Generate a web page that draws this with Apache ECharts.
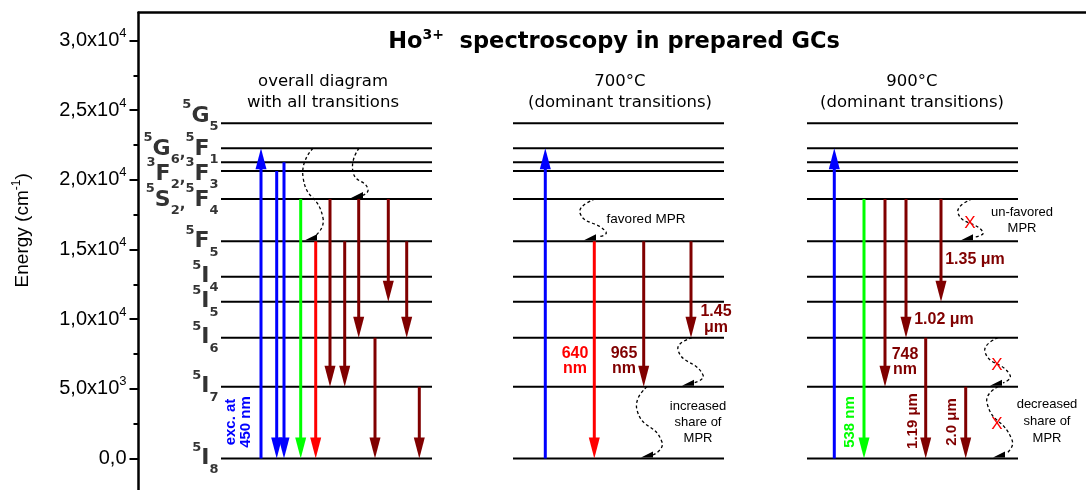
<!DOCTYPE html>
<html><head><meta charset="utf-8">
<script src="https://cdn.jsdelivr.net/npm/echarts@6/dist/echarts.min.js"></script>
<style>html,body{margin:0;padding:0;background:#fff}#c{width:1086px;height:490px}</style>
</head><body><div id="c"></div>
<script>
// ---------------- data ----------------
// Ho3+ energy levels (cm^-1)
const levelNames    = ['5I8', '5I7', '5I6', '5I5', '5I4', '5F5', '5S2', '3F3', '3F2', '5G6', '5G5'];
const levelEnergies = [0, 5150, 8670, 11260, 13050, 15590, 18630, 20640, 21260, 22270, 24060];

// level label texts (rich: p = superscript, m = main, b = subscript) and the energy they sit at
const levelLabelTexts = [
  '{p|5}{m|I}{b|8}', '{p|5}{m|I}{b|7}', '{p|5}{m|I}{b|6}', '{p|5}{m|I}{b|5}', '{p|5}{m|I}{b|4}',
  '{p|5}{m|F}{b|5}',
  '{p|5}{m|S}{b|2}{c|,}{p|5}{m|F}{b|4}',
  '{p|3}{m|F}{b|2}{c|,}{p|3}{m|F}{b|3}',
  '{p|5}{m|G}{b|6}{c|,}{p|5}{m|F}{b|1}',
  '{p|5}{m|G}{b|5}'
];
const levelLabelEnergies = [0, 5150, 8670, 11260, 13050, 15590, 18555, 20420, 22216, 24585];

// y axis ticks
const yTickValues  = [0, 5000, 10000, 15000, 20000, 25000, 30000];
const yTickLabels  = ['{m|0,0}', '{m|5,0x10}{s|3}', '{m|1,0x10}{s|4}', '{m|1,5x10}{s|4}', '{m|2,0x10}{s|4}', '{m|2,5x10}{s|4}', '{m|3,0x10}{s|4}'];
const yMinorValues = [2500, 7500, 12500, 17500, 22500, 27500];

const colourNames = ['blue', 'green', 'red', 'darkred'];

// transitions: [slot within panel, from level, to level, colour]
const overallTransitions = [
  [40, '5I8', '5G6', 'blue'],
  [55.7, '3F3', '5I8', 'blue'],
  [63, '3F2', '5I8', 'blue'],
  [79.7, '5S2', '5I8', 'green'],
  [94.7, '5F5', '5I8', 'red'],
  [109, '5S2', '5I7', 'darkred'],
  [123.7, '5F5', '5I7', 'darkred'],
  [137.7, '5S2', '5I6', 'darkred'],
  [154, '5I6', '5I8', 'darkred'],
  [167.3, '5S2', '5I5', 'darkred'],
  [185.7, '5F5', '5I6', 'darkred'],
  [198.3, '5I7', '5I8', 'darkred']
];
const t700Transitions = [
  [32.3, '5I8', '5G6', 'blue'],
  [81.3, '5F5', '5I8', 'red'],
  [130.7, '5F5', '5I7', 'darkred'],
  [178, '5F5', '5I6', 'darkred']
];
const t900Transitions = [
  [27.3, '5I8', '5G6', 'blue'],
  [57, '5S2', '5I8', 'green'],
  [78, '5S2', '5I7', 'darkred'],
  [99, '5S2', '5I6', 'darkred'],
  [118.7, '5I6', '5I8', 'darkred'],
  [134, '5S2', '5I5', 'darkred'],
  [158.7, '5I7', '5I8', 'darkred']
];

// multiphonon relaxation (dashed wavy) paths: [slot, energy] points, ending on a level
const overallMPR = [
  {path: [[92, 22270], [82, 20206], [102, 17262], [94, 15970]], end: [91, '5F5']},
  {path: [[138, 22270], [132, 20565], [147, 19345], [140, 18840]], end: [137, '5S2']}
];
const mpr700 = [
  {path: [[82, 18630], [67, 17620], [93, 16260], [85, 15900]], end: [78, '5F5']},
  {path: [[179, 8670], [165, 7790], [190, 5990], [180, 5420]], end: [176, '5I7']},
  {path: [[134, 5150], [124, 3480], [149, 1180], [140, 250]], end: [135, '5I8']}
];
const mpr900 = [
  {path: [[165, 18630], [151, 17620], [176, 16260], [168, 15900]], end: [161, '5F5']},
  {path: [[191, 8670], [178, 7650], [203, 5990], [196, 5420]], end: [190, '5I7']},
  {path: [[191, 5150], [180, 3980], [205, 1330], [200, 400]], end: [193, '5I8']}
];

// ---------------- layout ----------------
const COLORS = {blue: '#0000FF', green: '#00FF00', red: '#FF0000', darkred: '#800000'};
const PANEL_X = [82.5, 374.5, 668.5], PANEL_W = 211;
const E = n => levelEnergies[levelNames.indexOf(n)];

const levelSeg = [];
PANEL_X.forEach(px => levelEnergies.forEach(e => levelSeg.push([px, px + PANEL_W, e])));

const arrowData = [];
[overallTransitions, t700Transitions, t900Transitions].forEach((list, p) =>
  list.forEach(t => arrowData.push([PANEL_X[p] + t[0], E(t[1]), E(t[2]), colourNames.indexOf(t[3])])));

const mprData = [], mprPts = [];
[overallMPR, mpr700, mpr900].forEach((list, p) => list.forEach(c => {
  mprPts.push(c.path.map(q => [PANEL_X[p] + q[0], q[1]]));
  mprData.push([PANEL_X[p] + c.end[0], E(c.end[1])]);
}));

const DR = '#800000';
function T(text, x, y, o) {
  o = o || {};
  return {type: 'text', x: x, y: y, rotation: o.rot || 0, silent: true, z: 100,
    style: {text: text, fill: o.color || '#000', fontFamily: o.ff || 'Liberation Sans',
      fontSize: o.fs || 13, fontWeight: o.fw || 'normal', lineHeight: o.lh || undefined,
      align: 'center', verticalAlign: 'middle', textAlign: 'center', textVerticalAlign: 'middle',
      rich: o.rich}};
}
const RB = {ff: 'Liberation Sans', fw: 'bold', fs: 16, lh: 15};
const ROT = Math.PI / 2;

const graphics = [
  T('{b|Ho}{s|3+}{b|  spectroscopy in prepared GCs}', 614, 42, {rich: {
    b: {fontFamily: 'DejaVu Sans', fontWeight: 'bold', fontSize: 22.5, fill: '#000'},
    s: {fontFamily: 'DejaVu Sans', fontWeight: 'bold', fontSize: 14, fill: '#000', padding: [0, 0, 14, 0]}}}),
  T('overall diagram\nwith all transitions', 323, 92, {ff: 'DejaVu Sans', fs: 16.5, lh: 21}),
  T('700°C\n(dominant transitions)', 620, 92, {ff: 'DejaVu Sans', fs: 16.5, lh: 21}),
  T('900°C\n(dominant transitions)', 912, 92, {ff: 'DejaVu Sans', fs: 16.5, lh: 21}),
  // 700 panel
  T('640\nnm', 575, 361, Object.assign({}, RB, {color: '#FF0000'})),
  T('965\nnm', 624, 361, Object.assign({}, RB, {color: DR})),
  T('1.45\nμm', 716, 320, Object.assign({}, RB, {color: DR, lh: 16})),
  T('favored MPR', 646, 219, {fs: 13.5}),
  T('increased\nshare of\nMPR', 698, 422, {fs: 13, lh: 16}),
  // 900 panel
  T('1.35 μm', 975, 260, Object.assign({}, RB, {color: DR})),
  T('1.02 μm', 944, 320, Object.assign({}, RB, {color: DR})),
  T('748\nnm', 905, 362, Object.assign({}, RB, {color: DR})),
  T('un-favored\nMPR', 1022, 220, {fs: 13, lh: 16}),
  T('decreased\nshare of\nMPR', 1047, 421, {fs: 13, lh: 17}),
  T('X', 970, 223, {fs: 17, color: '#FF0000'}),
  T('X', 997, 365, {fs: 17, color: '#FF0000'}),
  T('X', 997, 424, {fs: 17, color: '#FF0000'}),
  // rotated labels
  T('exc. at\n450 nm', 238, 422, {ff: 'Liberation Sans', fw: 'bold', fs: 15, lh: 15, color: '#0000FF', rot: ROT}),
  T('538 nm', 850, 422, {ff: 'Liberation Sans', fw: 'bold', fs: 15, color: '#00FF00', rot: ROT}),
  T('1.19 μm', 913, 421, {ff: 'Liberation Sans', fw: 'bold', fs: 15, color: DR, rot: ROT}),
  T('2.0 μm', 952, 422, {ff: 'Liberation Sans', fw: 'bold', fs: 15, color: DR, rot: ROT})
];

const chart = echarts.init(document.getElementById('c'));
chart.setOption({
  animation: false,
  backgroundColor: '#fff',
  grid: {left: 138.5, right: 0, top: 12.7, bottom: 0},
  xAxis: {type: 'value', min: 0, max: 947.5, position: 'top',
    axisLine: {show: true, onZero: false, lineStyle: {color: '#000', width: 2.5}},
    axisTick: {show: false}, axisLabel: {show: false}, splitLine: {show: false}},
  yAxis: [{
    type: 'value', min: -2261, max: 32000, position: 'left',
    axisLine: {show: true, onZero: false, lineStyle: {color: '#000', width: 2.5}},
    axisTick: {show: true, length: 9, lineStyle: {color: '#000', width: 2}, customValues: yTickValues},
    axisLabel: {show: true, margin: 12, customValues: yTickValues,
      formatter: v => yTickLabels[yTickValues.indexOf(v)] || '',
      rich: {
        m: {fontFamily: 'Liberation Sans', fontSize: 20, color: '#000'},
        s: {fontFamily: 'Liberation Sans', fontSize: 13, color: '#000', padding: [0, 0, 14, 0]}
      }},
    splitLine: {show: false},
    name: '{a|Energy (cm}{s|-1}{a|)}', nameLocation: 'middle', nameGap: 104, nameRotate: 90,
    nameTextStyle: {padding: [0, 0, 0, 42], rich: {
      a: {fontFamily: 'Liberation Sans', fontSize: 19, color: '#000'},
      s: {fontFamily: 'Liberation Sans', fontSize: 12, color: '#000', padding: [0, 0, 12, 0]}}}
  }, {
    type: 'value', min: -2261, max: 32000, position: 'left',
    axisLine: {show: false, onZero: false},
    axisTick: {show: true, length: 5, lineStyle: {color: '#000', width: 2}, customValues: yMinorValues},
    axisLabel: {show: false}, splitLine: {show: false}
  }],
  graphic: graphics,
  series: [
    {type: 'custom', silent: true, z: 2, data: levelSeg, encode: {x: [0, 1], y: 2},
      renderItem: (p, api) => {
        const a = api.coord([api.value(0), api.value(2)]), b = api.coord([api.value(1), api.value(2)]);
        return {type: 'line', shape: {x1: a[0], y1: a[1], x2: b[0], y2: b[1]}, style: {stroke: '#000', lineWidth: 2}};
      }},
    {type: 'custom', silent: true, z: 3, data: arrowData, encode: {x: 0, y: [1, 2]},
      renderItem: (p, api) => {
        const x = api.value(0), c = COLORS[colourNames[api.value(3)]];
        const s = api.coord([x, api.value(1)]), t = api.coord([x, api.value(2)]);
        const dir = t[1] > s[1] ? 1 : -1, HL = 21, HW = 5.5;
        const base = t[1] - dir * HL;
        return {type: 'group', children: [
          {type: 'line', shape: {x1: s[0], y1: s[1], x2: t[0], y2: base + dir * 3}, style: {stroke: c, lineWidth: 3}},
          {type: 'polygon', shape: {points: [[t[0] - HW, base], [t[0] + HW, base], [t[0], t[1]]]}, style: {fill: c}}
        ]};
      }},
    {type: 'custom', silent: true, z: 4, data: mprData, encode: {x: 0, y: 1},
      renderItem: (p, api) => {
        const pts = mprPts[p.dataIndex].map(q => api.coord(q));
        const w = api.coord([api.value(0), api.value(1)]);
        return {type: 'group', children: [
          {type: 'polyline', shape: {points: pts, smooth: 0.6}, style: {stroke: '#000', lineWidth: 1.3, lineDash: [3, 2.5], fill: 'none'}},
          {type: 'polygon', shape: {points: [[w[0] - 7, w[1] - 1], [w[0] + 5, w[1] - 7], [w[0] + 5, w[1] - 1]]}, style: {fill: '#000'}}
        ]};
      }},
    {type: 'scatter', silent: true, z: 5, symbolSize: 1, itemStyle: {color: 'rgba(0,0,0,0)'},
      data: levelLabelEnergies.map(e => [PANEL_X[0] - 2, e]),
      label: {show: true, position: 'left', distance: 0,
        formatter: p => levelLabelTexts[p.dataIndex],
        rich: {
          m: {fontFamily: 'DejaVu Sans', fontWeight: 'bold', fontSize: 22, color: '#000'},
          p: {fontFamily: 'DejaVu Sans', fontWeight: 'bold', fontSize: 13, color: '#000', padding: [0, 0, 22, 0]},
          b: {fontFamily: 'DejaVu Sans', fontWeight: 'bold', fontSize: 13, color: '#000', padding: [22, 0, 0, 0]},
          c: {fontFamily: 'DejaVu Sans', fontWeight: 'bold', fontSize: 15, color: '#000', padding: [10, 0, 0, 0]}
        }}}
  ]
});
</script></body></html>
